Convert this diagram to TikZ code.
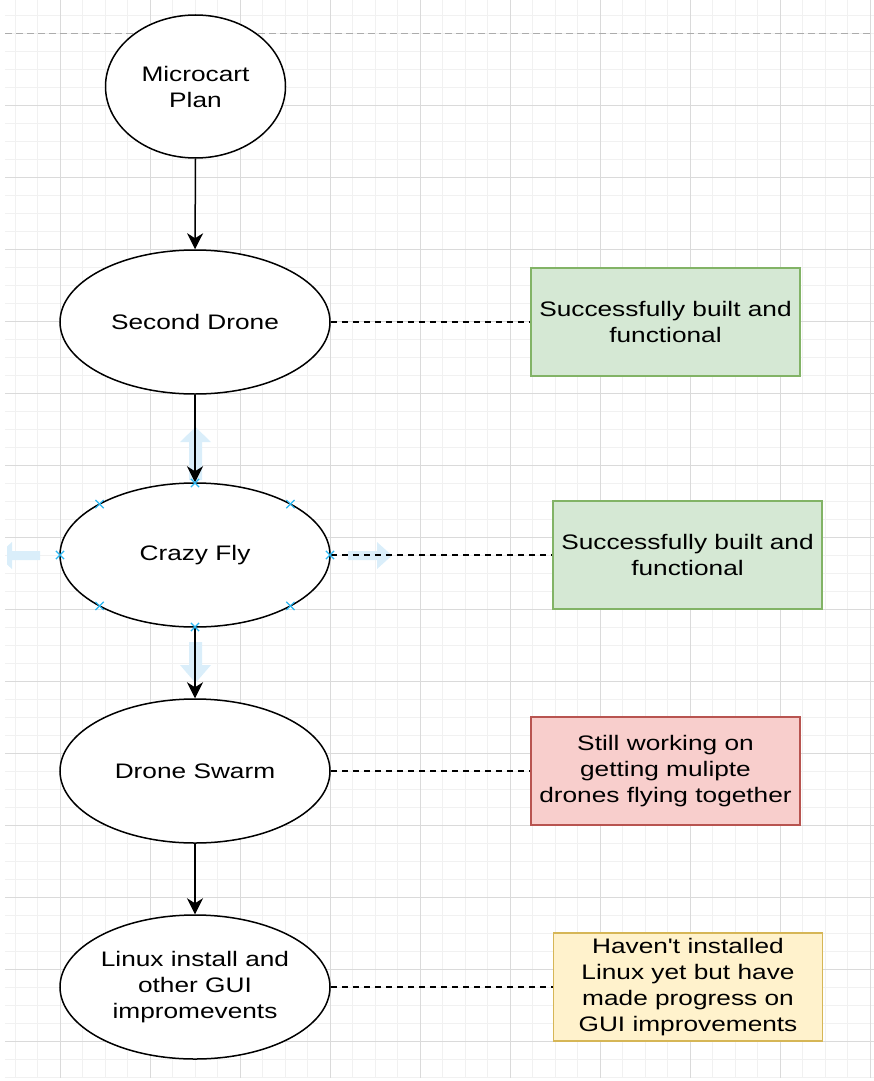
\documentclass[tikz,border=0pt]{standalone}
\usepackage{fontspec}
\setmainfont{Liberation Sans}[FakeStretch=1.25, Ligatures=TeXOff]
\usetikzlibrary{shapes.geometric,shapes.misc,arrows.meta,calc}
\definecolor{gridminor}{RGB}{241,241,241}
\definecolor{gridmajor}{RGB}{218,218,218}
\definecolor{okfill}{HTML}{D5E8D4}
\definecolor{okline}{HTML}{82B366}
\definecolor{wipfill}{HTML}{F8CECC}
\definecolor{wipline}{HTML}{B85450}
\definecolor{todofill}{HTML}{FFF2CC}
\definecolor{todoline}{HTML}{D6B656}
\definecolor{selblue}{HTML}{29B6F2}
\definecolor{hoverblue}{RGB}{218,238,250}

\begin{document}
\begin{tikzpicture}[x=1pt,y=-1pt]
        \tikzstyle{every node}=[font=\fontsize{21}{26}\selectfont]
        \tikzstyle{stage}=[ellipse, draw=black, line width=1.5pt, fill=white, minimum width=270pt, minimum height=144pt, inner sep=0pt, align=center]
        \tikzstyle{note}=[rectangle, line width=1.3pt, minimum width=269pt, minimum height=108pt, inner sep=0pt, align=center]
        \tikzstyle{flow}=[line width=1.5pt, -{Stealth[length=16pt,width=16pt,inset=5pt]}]
        \tikzstyle{link}=[line width=1.2pt, dash pattern=on 6pt off 5pt]
        \tikzstyle{handle}=[cross out, draw=selblue, line width=1.2pt, minimum size=7pt, inner sep=0pt]
        \tikzstyle{hover}=[fill=hoverblue, draw=none]

        \useasboundingbox (0,0) rectangle (874,1081);

        % page grid
        \foreach \x in {15,37.5,...,871} \draw[gridminor, line width=0.8pt] (\x,0) -- (\x,1078);
        \foreach \y in {15,33,...,1078} \draw[gridminor, line width=0.8pt] (5,\y) -- (874,\y);
        \foreach \x in {60,150,...,871} \draw[gridmajor, line width=0.8pt] (\x,0) -- (\x,1078);
        \foreach \y in {105,177,...,1078} \draw[gridmajor, line width=0.8pt] (5,\y) -- (874,\y);
        \draw[gray!65, line width=0.8pt, dash pattern=on 7pt off 4pt] (5,33) -- (874,33);

        % hover arrows round the selected shape
        \fill[hover] (189,480) -- (189,442) -- (180,442) -- (195.5,427) -- (211,442) -- (202,442) -- (202,480) -- cycle;
        \fill[hover] (189,642) -- (189,665) -- (180,665) -- (195.5,683) -- (211,665) -- (202,665) -- (202,642) -- cycle;
        \fill[hover] (348,551) -- (377,551) -- (377,542) -- (392,555.5) -- (377,569) -- (377,560) -- (348,560) -- cycle;
        \begin{scope}
            \clip (7,500) rectangle (60,600);
            \fill[hover] (40,551) -- (12,551) -- (12,542) -- (-3,555.5) -- (12,569) -- (12,560) -- (40,560) -- cycle;
        \end{scope}

        % stages
        \node[stage, minimum width=180pt, minimum height=143pt] (mp) at (195.5,86.5) {Microcart\\Plan};
        \node[stage] (sd) at (195,322) {Second Drone};
        \node[stage] (cf) at (195,555) {Crazy Fly};
        \node[stage] (ds) at (195,771) {Drone Swarm};
        \node[stage] (li) at (195,987) {Linux install and\\other GUI\\impromevents};

        % status notes
        \node[note, fill=okfill, draw=okline] (ok1) at (665.5,322) {Successfully built and\\functional};
        \node[note, fill=okfill, draw=okline] (ok2) at (687.5,555) {Successfully built and\\functional};
        \node[note, fill=wipfill, draw=wipline] (wip) at (665.5,771) {Still working on\\getting mulipte\\drones flying together};
        \node[note, fill=todofill, draw=todoline] (todo) at (688,987) {Haven't installed\\Linux yet but have\\made progress on\\GUI improvements};

        \draw[flow] (mp.south) -- (sd.north);
        \draw[flow] (sd.south) -- (cf.north);
        \draw[flow] (cf.south) -- (ds.north);
        \draw[flow] (ds.south) -- (li.north);

        \draw[link] (sd.east) -- (ok1.west);
        \draw[link] (cf.east) -- (ok2.west);
        \draw[link] (ds.east) -- (wip.west);
        \draw[link] (li.east) -- (todo.west);

        % connection points of the selected shape
        \foreach \a in {0,45,...,315}
            \node[handle] at ($(cf.center)+({135*cos(\a)},{72*sin(\a)})$) {};

    \end{tikzpicture}
\end{document}
